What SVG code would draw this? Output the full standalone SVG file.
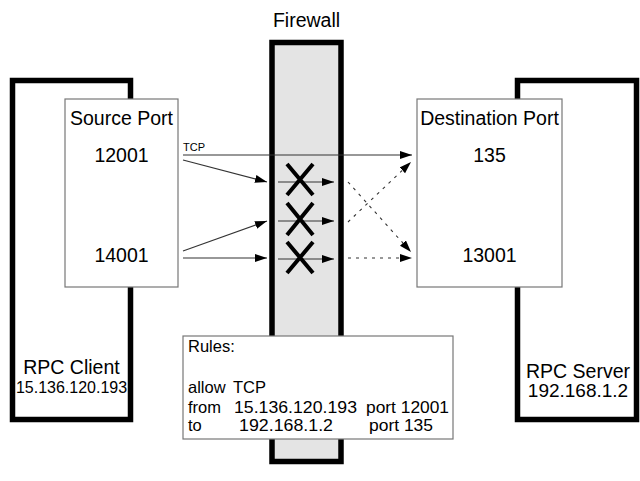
<svg xmlns="http://www.w3.org/2000/svg" width="640" height="481" viewBox="0 0 640 481">
<defs>
<marker id="ah" markerUnits="userSpaceOnUse" markerWidth="13" markerHeight="9" refX="12" refY="4" orient="auto">
<path d="M0,0 L12,4 L0,8 z" fill="#000"/>
</marker>
<style>
text{font-family:"Liberation Sans",Arial,sans-serif;fill:#000}
.big{font-size:19.5px}
.thick{fill:none;stroke:#000;stroke-width:5.5}
.port{fill:#fff;stroke:#777;stroke-width:1.2}
.ln{fill:none;stroke:#333;stroke-width:1.1;marker-end:url(#ah)}
.dot{stroke-dasharray:3 5}
.x{stroke:#000;stroke-width:4;stroke-linecap:butt}
</style>
</defs>
<rect width="640" height="481" fill="#fff"/>

<g id="client">
<rect class="thick" x="12.5" y="80.5" width="118" height="339"/>
<text x="71.5" y="374" class="big" text-anchor="middle">RPC Client</text>
<text x="71.5" y="393" font-size="16" text-anchor="middle">15.136.120.193</text>
</g>
<g id="source-port">
<rect class="port" x="65" y="99" width="113" height="188"/>
<text x="121.5" y="125" class="big" text-anchor="middle">Source Port</text>
<text x="121.5" y="162" class="big" text-anchor="middle">12001</text>
<text x="121.5" y="262" class="big" text-anchor="middle">14001</text>
</g>

<g id="server">
<rect class="thick" x="517.5" y="80.5" width="119" height="339"/>
<text x="578" y="378" class="big" text-anchor="middle">RPC Server</text>
<text x="578" y="397" font-size="19" text-anchor="middle">192.168.1.2</text>
</g>
<g id="destination-port">
<rect class="port" x="417" y="99" width="145" height="188"/>
<text x="489.5" y="125" class="big" text-anchor="middle">Destination Port</text>
<text x="489.5" y="162" class="big" text-anchor="middle">135</text>
<text x="489.5" y="262" class="big" text-anchor="middle">13001</text>
</g>

<g id="firewall">
<rect x="272" y="42.5" width="69" height="419" fill="#e4e4e4" stroke="#000" stroke-width="5.5"/>
<text x="306.5" y="27" class="big" text-anchor="middle">Firewall</text>
</g>

<g id="rules">
<rect class="port" x="183" y="336" width="270" height="103"/>
<g font-size="16.5">
<text x="188" y="352">Rules:</text>
<text x="188" y="393">allow</text><text x="233" y="393">TCP</text>
<text x="188" y="413">from</text><text x="234" y="413" textLength="123" lengthAdjust="spacingAndGlyphs">15.136.120.193</text><text x="366" y="413" textLength="83" lengthAdjust="spacingAndGlyphs">port 12001</text>
<text x="188" y="431">to</text><text x="239" y="431" textLength="94" lengthAdjust="spacingAndGlyphs">192.168.1.2</text><text x="369" y="431" textLength="64" lengthAdjust="spacingAndGlyphs">port 135</text>
</g>
</g>

<g id="connectors">
<line class="ln" x1="183" y1="155" x2="412" y2="155"/>
<text x="183" y="151" font-size="11">TCP</text>
<line class="ln" x1="183" y1="160" x2="267" y2="182"/>
<line class="ln" x1="183" y1="251" x2="267" y2="221"/>
<line class="ln" x1="183" y1="258" x2="267" y2="258"/>
<line class="ln" x1="278" y1="182" x2="334" y2="182"/>
<line class="ln" x1="278" y1="221" x2="334" y2="221"/>
<line class="ln" x1="278" y1="259" x2="334" y2="259"/>
<line class="ln dot" x1="348" y1="182" x2="411" y2="252"/>
<line class="ln dot" x1="348" y1="222" x2="411" y2="162"/>
<line class="ln dot" x1="348" y1="258" x2="412" y2="258"/>
</g>

<g id="blocks">
<path class="x" d="M287,164 L313,195 M313,164 L287,195"/>
<path class="x" d="M287,203 L313,235 M313,203 L287,235"/>
<path class="x" d="M287,242 L313,273 M313,242 L287,273"/>
</g>
</svg>
